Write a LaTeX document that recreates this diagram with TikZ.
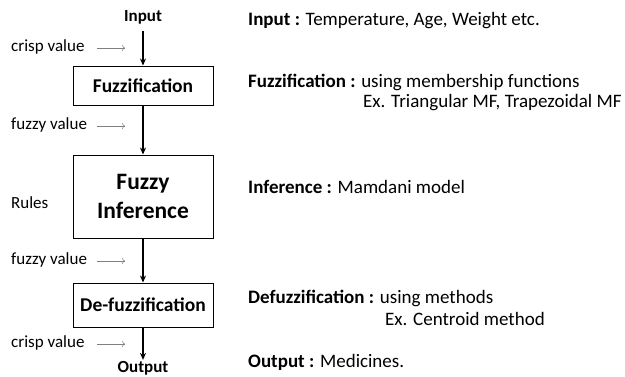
\documentclass[tikz,border=0pt]{standalone}
\usepackage{fontspec}
\setmainfont{Carlito}
\usetikzlibrary{arrows.meta}
\begin{document}
\begin{tikzpicture}[x=1pt,y=-1pt,
  stage/.style={draw, line width=1pt, minimum width=140pt, inner sep=0pt, font=\bfseries\fontsize{19.5}{23}\selectfont},
  side/.style={anchor=west, inner sep=0pt, font=\fontsize{17}{20}\selectfont},
  info/.style={anchor=west, inner sep=0pt, font=\fontsize{19}{22}\selectfont},
  term/.style={inner sep=0pt, font=\bfseries\fontsize{17}{20}\selectfont},
  flow/.style={-{Stealth[length=7pt,width=6pt]}, line width=1.2pt},
  hint/.style={-{To[length=3pt]}, gray, line width=0.5pt}]
  \useasboundingbox (0,0) rectangle (625,376);
  % stages
  \node[stage, minimum height=39pt] (fuzz) at (143,85.5) {Fuzzification};
  \node[stage, minimum height=83pt, align=center, font=\bfseries\fontsize{23.5}{29}\selectfont] (infer) at (143,196.5) {Fuzzy\\Inference};
  \node[stage, minimum height=44pt] (defuzz) at (143,305) {De-fuzzification};
  \node[term] (in) at (143,17) {Input};
  \node[term] (out) at (143,368) {Output};
  \draw[flow, shorten <=7pt] (in) -- (fuzz);
  \draw[flow] (fuzz) -- (infer);
  \draw[flow] (infer) -- (defuzz);
  \draw[flow, shorten >=1pt] (defuzz) -- (out);
  % left hints
  \node[side] (c1) at (11,47) {crisp value};
  \node[side] (f1) at (11,125) {fuzzy value};
  \node[side] (rules) at (11,203) {Rules};
  \node[side] (f2) at (11,260) {fuzzy value};
  \node[side] (c2) at (11,343) {crisp value};
  \foreach \n/\y in {c1/48,f1/126,f2/261,c2/344}{
    \coordinate (\n a) at (97,\y);
    \coordinate (\n b) at (125,\y);
    \draw[hint] (\n a) -- (\n b);
  }
  % right notes
  \node[info] (nin) at (248,21) {\textbf{Input :} Temperature, Age, Weight etc.};
  \node[info] (nfuzz) at (248,82) {\textbf{Fuzzification :} using membership functions};
  \node[info] (nfuzz2) at (363,103) {Ex. Triangular MF, Trapezoidal MF};
  \node[info] (ninf) at (248,187) {\textbf{Inference :} Mamdani model};
  \node[info] (ndef) at (248,298) {\textbf{Defuzzification :} using methods};
  \node[info] (ndef2) at (385,319) {Ex. Centroid method};
  \node[info] (nout) at (248,362) {\textbf{Output :} Medicines.};
\end{tikzpicture}
\end{document}
